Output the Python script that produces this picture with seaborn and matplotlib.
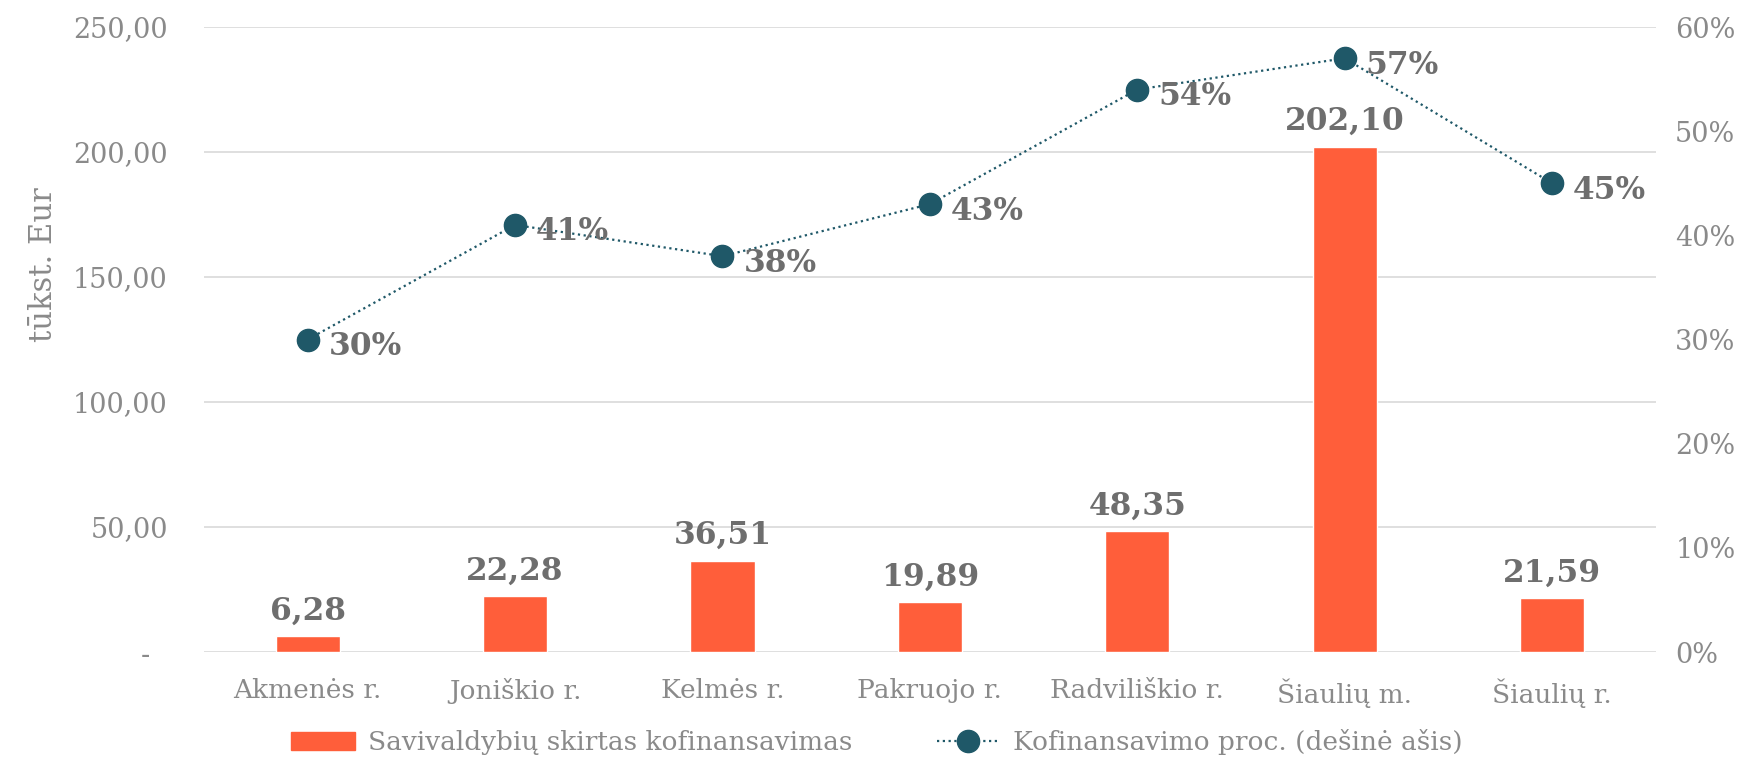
import numpy as np
import pandas as pd
import matplotlib
matplotlib.use("Agg")
import matplotlib.pyplot as plt
from matplotlib.ticker import FuncFormatter, FixedLocator
from matplotlib.lines import Line2D
from matplotlib.patches import Patch
import seaborn as sns

categories = ["Akmenės r.", "Joniškio r.", "Kelmės r.", "Pakruojo r.",
              "Radviliškio r.", "Šiaulių m.", "Šiaulių r."]
cofinancing = [6.28, 22.28, 36.51, 19.89, 48.35, 202.10, 21.59]
cofin_pct = [0.30, 0.41, 0.38, 0.43, 0.54, 0.57, 0.45]
left_ticks = [0, 50, 100, 150, 200, 250]
right_ticks = [0, 0.1, 0.2, 0.3, 0.4, 0.5, 0.6]
bar_label_name = "Savivaldybių skirtas kofinansavimas"
line_label_name = "Kofinansavimo proc. (dešinė ašis)"
y_label = "tūkst. Eur"

BAR_C = "#FF5E3A"
DOT_C = "#1F5868"
TICK_C = "#8A8A8A"
LAB_C = "#6E6E6E"
GRID_C = "#DCDCDC"

sns.set_theme(style="white")
plt.rcParams["font.family"] = ["DejaVu Serif", "DejaVu Sans"]

df = pd.DataFrame({"cat": categories, "val": cofinancing, "pct": cofin_pct})

fig = plt.figure(figsize=(17.54, 7.61), dpi=100)
ax = fig.add_axes([0.1163, 0.1432, 0.944 - 0.1163, 0.9645 - 0.1432])

sns.barplot(data=df, x="cat", y="val", color=BAR_C, width=0.31,
            saturation=1, ax=ax, zorder=2)
ax.set_ylim(0, 250)
ax.set_xlim(-0.5, len(categories) - 0.5)
ax.yaxis.set_major_locator(FixedLocator(left_ticks))
ax.yaxis.set_major_formatter(FuncFormatter(
    lambda v, p: "-  " if v == 0 else f"{v:,.2f}".replace(",", " ").replace(".", ",")))
ax.grid(axis="y", color=GRID_C, linewidth=1.3, zorder=0)
ax.grid(axis="x", visible=False)
ax.set_axisbelow(True)
for s in ax.spines.values():
    s.set_visible(False)
ax.tick_params(axis="y", length=0, pad=26, labelsize=19.5, labelcolor=TICK_C)
ax.tick_params(axis="x", length=0, pad=19, labelsize=19, labelcolor=TICK_C)
ax.set_xlabel("")
ax.set_ylabel(y_label, fontsize=22, color=TICK_C, labelpad=14)
ax.yaxis.set_label_coords(-0.1, 0.62)

for c in ax.containers:
    ax.bar_label(c, labels=[f"{v:.2f}".replace(".", ",") for v in cofinancing],
                 padding=7, fontsize=22.5, fontweight="bold", color=LAB_C)

ax2 = ax.twinx()
ax2.plot(np.arange(len(categories)), df["pct"], linestyle=(0, (1, 1.6)),
         linewidth=1.6, color=DOT_C, marker="o", markersize=16,
         markerfacecolor=DOT_C, markeredgecolor=DOT_C, zorder=3)
ax2.set_ylim(0, 0.6)
ax2.yaxis.set_major_locator(FixedLocator(right_ticks))
ax2.yaxis.set_major_formatter(FuncFormatter(lambda v, p: f"{v*100:.0f}%"))
ax2.tick_params(axis="y", length=0, pad=14, labelsize=19.5, labelcolor=TICK_C)
ax2.grid(False)
for s in ax2.spines.values():
    s.set_visible(False)
for i, p in enumerate(cofin_pct):
    ax2.annotate(f"{p*100:.0f}%", (i, p), xytext=(15, -5),
                 textcoords="offset points", ha="left", va="center",
                 fontsize=22.5, fontweight="bold", color=LAB_C)

handles = [Patch(facecolor=BAR_C, edgecolor=BAR_C),
           Line2D([0], [0], color=DOT_C, linestyle=(0, (1, 1.6)), linewidth=1.6,
                  marker="o", markersize=16)]
fig.legend(handles, [bar_label_name, line_label_name], loc="center",
           bbox_to_anchor=(0.5, 0.025), ncol=2, frameon=False, fontsize=19,
           labelcolor=TICK_C, handlelength=2.4, handletextpad=0.5,
           columnspacing=3.2)

fig.savefig("out.png", dpi=100)
